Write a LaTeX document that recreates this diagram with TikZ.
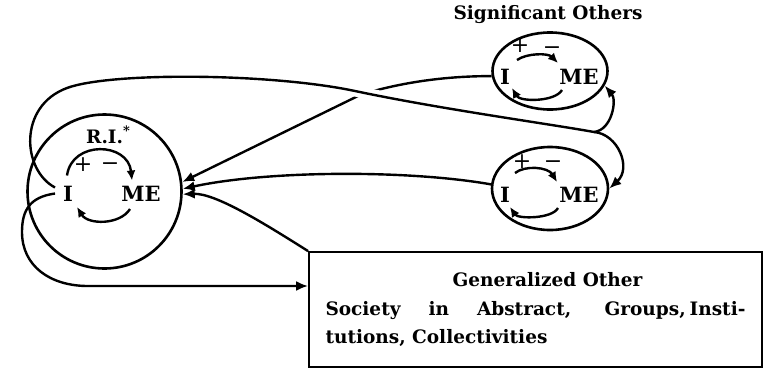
\documentclass[tikz,border=0pt]{standalone}
\usepackage{fontspec}
\setmainfont{DejaVu Serif}
\usetikzlibrary{arrows.meta,shapes.geometric,calc}
\pgfdeclarelayer{bg}
\pgfsetlayers{bg,main}
\begin{document}
\begin{tikzpicture}[x=1pt,y=-1pt,
  selfcircle/.style={circle,draw,line width=2.6pt,minimum size=154pt,inner sep=0pt},
  otherellipse/.style={ellipse,draw,line width=2.6pt,inner sep=0pt},
  title/.style={font=\fontsize{18.5}{22}\selectfont\bfseries,inner sep=0pt},
  word/.style={font=\fontsize{21}{24}\selectfont\bfseries,inner sep=0pt},
  sign/.style={font=\fontsize{22}{24}\selectfont,inner sep=0pt},
  genbox/.style={draw,line width=1.8pt,minimum width=453pt,minimum height=115pt,text width=420pt,align=justify,font=\fontsize{18.5}{28.5}\selectfont\bfseries,inner sep=0pt},
  link/.style={line width=2.4pt,-{Latex[length=12pt,width=10pt]}},
  plainlink/.style={line width=2.4pt},
  cyc/.style={line width=2.4pt,-{Latex[length=10pt,width=9pt]}},
  gap/.style={preaction={draw,white,line width=11pt}}
]
\useasboundingbox (0,0) rectangle (767,370);

% Reflective self
\node[selfcircle] (ri) at (104.5,191.5) {};
\node[title] (rilabel) at (108,135) {R.I.\raisebox{0.45em}{\fontsize{13}{13}\selectfont *}};
\node[word] (riI) at (68,193.5) {I};
\node[word] (riME) at (141,193.5) {ME};
\node[sign] (riplus) at (83,165) {+};
\node[sign] (riminus) at (110,167) {−};

% Significant others
\node[title] (sotitle) at (548,15) {Significant Others};
\node[otherellipse,minimum width=115pt,minimum height=77pt] (so1) at (550,71) {};
\node[word] (so1I) at (505,77) {I};
\node[word] (so1ME) at (579,77) {ME};
\node[sign] (so1plus) at (520,46) {+};
\node[sign] (so1minus) at (552,51) {−};

\node[otherellipse,minimum width=116pt,minimum height=83pt] (so2) at (550,188.5) {};
\node[word] (so2I) at (505,195) {I};
\node[word] (so2ME) at (579,195) {ME};
\node[sign] (so2plus) at (522,162) {+};
\node[sign] (so2minus) at (553,165) {−};

% Generalized other
\node[genbox] (gen) at (535.5,309.5) {\noindent\makebox[420pt][c]{\hspace*{24pt}Generalized Other}\par
\noindent Society in Abstract, Groups,\kern4pt Insti-\linebreak tutions, Collectivities};

\coordinate (j) at (594,132);
\coordinate (bl) at (88,286);

\begin{pgfonlayer}{bg}
% significant other (top) to R.I.
\draw[link] (so1.185) .. controls (440,76) and (395,84) .. (360,95) -- (ri.7);
% loop from I over the top to both significant others
\draw[plainlink,gap] ($(riI)+(-13,-6)$) .. controls (22,170) and (18,106) .. (67,88)
   .. controls (110,72) and (270,73) .. (355,91)
   .. controls (440,109) and (550,124) .. (j);
\draw[link] (j) .. controls (612,130) and (617,100) .. (so1.-15);
\draw[link] (j) .. controls (618,134) and (632,168) .. (so2.east);
% significant other (bottom) to R.I.
\draw[link] (so2.176) .. controls (410,170) and (270,170) .. (ri.2);
% generalized other to R.I.
\draw[link] (gen.north west) .. controls (262,222) and (215,193) .. (ri.-2);
% loop from I under to generalized other
\draw[link] ($(riI)+(-13,0)$) .. controls (30,197) and (22,210) .. (22,232)
   .. controls (22,266) and (50,286) .. (bl) -- (gen.west |- bl);
\end{pgfonlayer}

% I - ME cycles
\draw[cyc] ($(riI)+(-1,-18)$) .. controls (72,140) and (128,142) .. ($(riME)+(-9,-13)$);
\draw[cyc] ($(riME)+(-11,15.5)$) .. controls (120,225) and (88,225) .. ($(riI)+(9,13.5)$);
\draw[cyc] ($(so1I)+(12,-17)$) .. controls (527,53) and (548,53) .. ($(so1ME)+(-21,-14)$);
\draw[cyc] ($(so1ME)+(-17,13)$) .. controls (555,102) and (520,102) .. ($(so1I)+(7,11)$);
\draw[cyc] ($(so2I)+(10,-22)$) .. controls (525,165) and (548,167) .. ($(so2ME)+(-22,-13)$);
\draw[cyc] ($(so2ME)+(-21,13)$) .. controls (552,219) and (518,219) .. ($(so2I)+(5,12)$);
\end{tikzpicture}
\end{document}
